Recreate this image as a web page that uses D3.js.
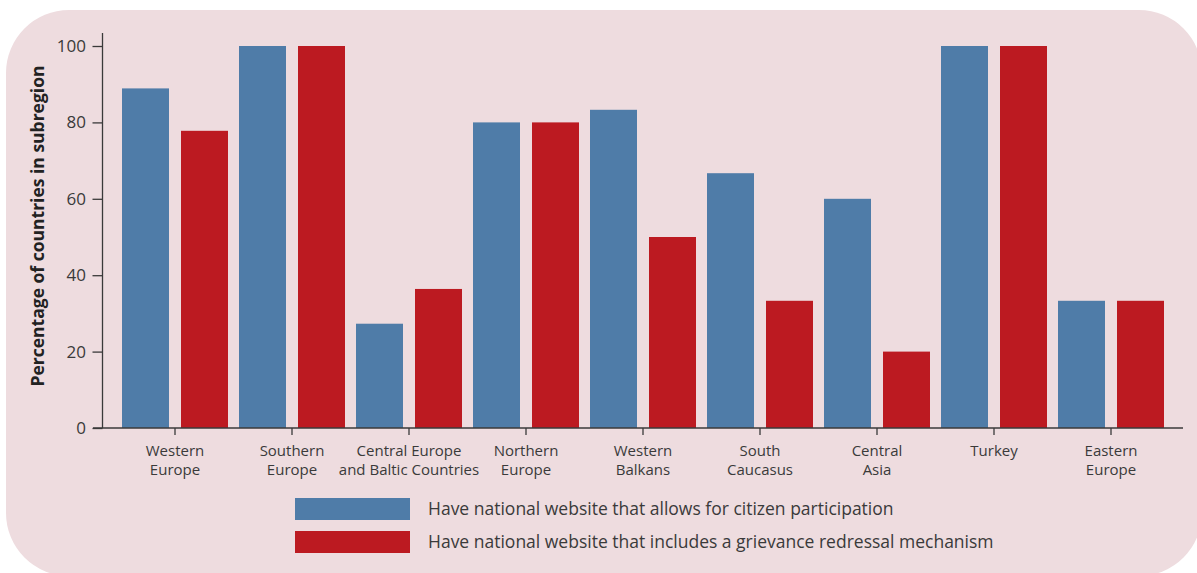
<!DOCTYPE html>
<html>
<head>
<meta charset="utf-8">
<script src="https://cdn.jsdelivr.net/npm/d3@7"></script>
<style>
  html, body { margin: 0; padding: 0; background: #ffffff; }
  svg { display: block; font-family: "Open Sans", "Noto Sans", sans-serif; }
</style>
</head>
<body>
<svg id="chart" width="1197" height="573"></svg>
<script>
// ---- data ----
const categories = [
  ["Western", "Europe"],
  ["Southern", "Europe"],
  ["Central Europe", "and Baltic Countries"],
  ["Northern", "Europe"],
  ["Western", "Balkans"],
  ["South", "Caucasus"],
  ["Central", "Asia"],
  ["Turkey"],
  ["Eastern", "Europe"]
];
const participation = [88.9, 100, 27.3, 80, 83.3, 66.7, 60, 100, 33.3];
const grievance     = [77.8, 100, 36.4, 80, 50, 33.3, 20, 100, 33.3];
const seriesNames = [
  "Have national website that allows for citizen participation",
  "Have national website that includes a grievance redressal mechanism"
];
const yTicks = [0, 20, 40, 60, 80, 100];
const yTitle = "Percentage of countries in subregion";

// ---- styles ----
const FONT = '"Open Sans", "Noto Sans", sans-serif';
const colors = ["#4f7ca8", "#bc1a21"];
const textColor = "#3a3a3a";

const svg = d3.select("#chart");

// background panel
svg.append("rect")
  .attr("x", 6).attr("y", 10)
  .attr("width", 1196).attr("height", 566)
  .attr("rx", 63).attr("ry", 63)
  .attr("fill", "#eedcdf");

const keys = categories.map(c => c.join(" "));
const x = d3.scaleBand().domain(keys).range([116.5, 1169.5]).paddingInner(0).paddingOuter(0);
const xs = d3.scaleBand().domain([0, 1]).range([0, x.bandwidth()])
  .paddingInner(12 / 59).paddingOuter(5.5 / 59);
const y = d3.scaleLinear().domain([0, 100]).range([428, 46]);

const data = keys.map((k, i) => ({ key: k, values: [participation[i], grievance[i]] }));

// bars
const g = svg.append("g");
g.selectAll("g.cat").data(data).join("g")
  .attr("class", "cat")
  .attr("transform", d => `translate(${x(d.key)},0)`)
  .selectAll("rect").data(d => d.values.map((v, s) => ({ v, s })))
  .join("rect")
  .attr("x", d => xs(d.s))
  .attr("width", xs.bandwidth())
  .attr("y", d => y(d.v))
  .attr("height", d => y(0) - y(d.v))
  .attr("fill", d => colors[d.s]);

// y axis
const yAxis = svg.append("g")
  .attr("transform", "translate(102.5,0)")
  .call(d3.axisLeft(y).tickValues(yTicks).tickSize(10).tickPadding(6.5).tickSizeOuter(0))
  .attr("font-family", FONT);
yAxis.select(".domain").remove();
yAxis.selectAll(".tick line").attr("stroke", textColor).attr("stroke-width", 1.3);
yAxis.selectAll(".tick text").attr("fill", textColor).style("font-size", "17px");
svg.append("line")
  .attr("x1", 102.5).attr("x2", 102.5)
  .attr("y1", y(0)).attr("y2", y(103.4))
  .attr("stroke", textColor).attr("stroke-width", 1.3);

// x axis
const xAxis = svg.append("g")
  .attr("transform", `translate(0,${y(0)})`)
  .call(d3.axisBottom(x).tickSize(7).tickSizeOuter(0).tickFormat(""))
  .attr("font-family", FONT);
xAxis.select(".domain").remove();
xAxis.selectAll(".tick line").attr("stroke", textColor).attr("stroke-width", 1.3);
svg.append("line")
  .attr("x1", 93).attr("x2", 1183)
  .attr("y1", y(0)).attr("y2", y(0))
  .attr("stroke", textColor).attr("stroke-width", 1.3);

xAxis.selectAll(".tick").each(function(d, i) {
  const t = d3.select(this).append("text")
    .attr("fill", textColor)
    .attr("text-anchor", "middle")
    .style("font-size", "15px");
  categories[i].forEach((line, j) => {
    t.append("tspan").attr("x", 0).attr("y", 28 + j * 18.5).text(line);
  });
});

// y title
svg.append("text")
  .attr("transform", `translate(44,226) rotate(-90)`)
  .attr("text-anchor", "middle")
  .attr("fill", "#222")
  .style("font-size", "17.5px")
  .style("font-weight", "bold")
  .text(yTitle);

// legend
const legend = svg.append("g").attr("transform", "translate(295,498)");
seriesNames.forEach((name, i) => {
  const lg = legend.append("g").attr("transform", `translate(0,${i * 33})`);
  lg.append("rect").attr("width", 115).attr("height", 22).attr("fill", colors[i]);
  lg.append("text").attr("x", 133).attr("y", 17)
    .attr("fill", textColor).style("font-size", "17.5px").text(name);
});
</script>
</body>
</html>
